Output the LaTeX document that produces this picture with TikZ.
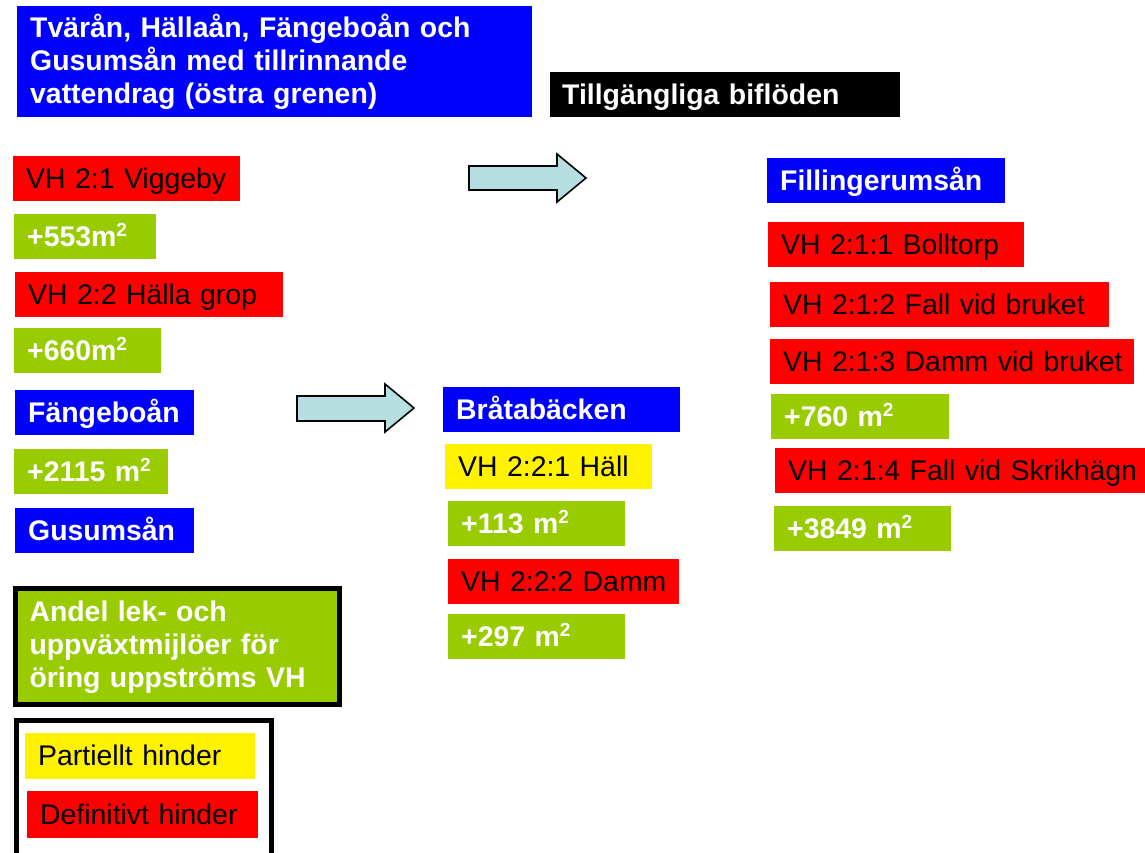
\documentclass[tikz,border=0pt]{standalone}
\usepackage{fontspec}
\setmainfont{Liberation Sans}
\usepackage{xcolor}
\usetikzlibrary{positioning}
\definecolor{gron}{RGB}{153,204,0}
\definecolor{pilfarg}{RGB}{183,222,225}
\newcommand{\kv}{\raisebox{10pt}{\fontsize{19}{19}\selectfont 2}}

\begin{document}
\begin{tikzpicture}[
  x=1pt, y=-1pt, font=\fontsize{28.4}{33}\selectfont,
  bas/.style={anchor=north west, inner xsep=13pt, inner ysep=0pt, align=left},
  ruta/.style={bas, minimum height=45pt, text height=22pt, text depth=3pt,
    execute at begin node={\hbox\bgroup}, execute at end node={\egroup}},
  vit/.style={text=white, font=\fontsize{28.4}{33}\selectfont\bfseries},
  vh/.style={ruta, fill=red, text=black},
  del/.style={ruta, fill=yellow, text=black},
  yta/.style={ruta, fill=gron, vit},
  aa/.style={ruta, fill=blue, vit},
  pil/.style={draw=black, line width=1.6pt, line join=miter, fill=pilfarg},
]
  \useasboundingbox (0,0) rectangle (1145,852);

  \node[bas, fill=blue, vit, minimum height=111pt, text width=489pt, text height=22pt, text depth=70pt]
    (titel) at (17,6)
    {Tvärån, Hällaån, Fängeboån och\\Gusumsån med tillrinnande\\vattendrag (östra grenen)};
  \node[aa, fill=black, inner xsep=12pt, text width=326pt] (rub) at (550,72) {Tillgängliga biflöden};

  % huvudfåran
  \node[vh, text width=201pt] (v21) at (13,156) {VH 2:1 Viggeby};
  \node[yta, text width=116pt] (y21) at (14,214) {+553m\kv};
  \node[vh, text width=242pt] (v22) at (15,272) {VH 2:2 Hälla grop};
  \node[yta, text width=121pt] (y22) at (14,328) {+660m\kv};
  \node[aa, text width=153pt] (fang) at (15,390) {Fängeboån};
  \node[yta, text width=128pt] (yfang) at (14,449) {+2115 m\kv};
  \node[aa, text width=153pt] (gus) at (15,508) {Gusumsån};

  % Bråtabäcken
  \node[aa, text width=211pt] (brata) at (443,387) {Bråtabäcken};
  \node[del, text width=181pt] (v221) at (445,444) {VH 2:2:1 Häll};
  \node[yta, text width=151pt] (y221) at (448,501) {+113 m\kv};
  \node[vh, text width=205pt] (v222) at (448,559) {VH 2:2:2 Damm};
  \node[yta, text width=151pt] (y222) at (448,614) {+297 m\kv};

  % Fillingerumsån
  \node[aa, text width=212pt] (fill) at (767,158) {Fillingerumsån};
  \node[vh, text width=230pt] (v211) at (768,222) {VH 2:1:1 Bolltorp};
  \node[vh, text width=313pt] (v212) at (770,282) {VH 2:1:2 Fall vid bruket};
  \node[vh, text width=338pt] (v213) at (770,339) {VH 2:1:3 Damm vid bruket};
  \node[yta, text width=152pt] (y213) at (771,394) {+760 m\kv};
  \node[vh, text width=360pt] (v214) at (775,448) {VH 2:1:4 Fall vid Skrikhägn};
  \node[yta, text width=151pt] (y214) at (774,506) {+3849 m\kv};

  \draw[pil] (469,166) -- (557,166) -- (557,154) -- (586,178) -- (557,202) -- (557,190) -- (469,190) -- cycle;
  \draw[pil] (297,396) -- (385,396) -- (385,384) -- (414,408) -- (385,432) -- (385,421) -- (297,421) -- cycle;

  % förklaring
  \node[bas, fill=gron, vit, draw=black, line width=5pt, minimum height=116pt,
    inner xsep=14.5pt, text width=295pt, text height=22pt, text depth=72pt] (andel) at (12.5,585.5)
    {Andel lek- och\\uppväxtmijlöer för\\öring uppströms VH};
  \node[draw=black, line width=5pt, anchor=north west, minimum width=255pt, minimum height=150pt,
    inner sep=0pt] (legend) at (13.5,717.5) {};
  \node[del, minimum height=46pt, text width=204pt] (lpart) at (25,733) {Partiellt hinder};
  \node[vh, minimum height=47pt, text width=205pt] (ldef) at (27,791) {Definitivt hinder};
\end{tikzpicture}
\end{document}
